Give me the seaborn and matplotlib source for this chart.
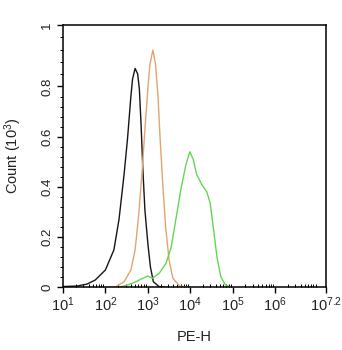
import numpy as np
import pandas as pd
import matplotlib
matplotlib.use("Agg")
import matplotlib.pyplot as plt
import seaborn as sns
from matplotlib.ticker import FixedLocator, FixedFormatter

# ---- data (x in log10 PE-H units, y in Count x10^3) ----
black_logx = [1.00, 1.33, 1.57, 1.76, 2.00, 2.20, 2.32, 2.44, 2.52, 2.60, 2.64, 2.70,
              2.76, 2.80, 2.84, 2.88, 2.93, 3.00, 3.06, 3.13, 3.27, 3.47]
black_count = [0.003, 0.005, 0.013, 0.029, 0.069, 0.149, 0.27, 0.45, 0.59, 0.76, 0.83, 0.872,
               0.85, 0.79, 0.65, 0.48, 0.31, 0.175, 0.082, 0.022, 0.002, 0.0]

orange_logx = [2.00, 2.24, 2.44, 2.60, 2.70, 2.78, 2.86, 2.94, 3.00, 3.05, 3.12,
               3.18, 3.24, 3.29, 3.36, 3.42, 3.50, 3.59, 3.75, 3.98]
orange_count = [0.0, 0.002, 0.022, 0.069, 0.149, 0.28, 0.45, 0.65, 0.79, 0.89, 0.945,
                0.89, 0.76, 0.59, 0.39, 0.24, 0.109, 0.036, 0.005, 0.0]

green_logx = [2.32, 2.52, 2.72, 2.88, 3.00, 3.10, 3.27, 3.43, 3.55, 3.67, 3.79, 3.90, 3.99,
              4.07, 4.15, 4.27, 4.39, 4.47, 4.55, 4.63, 4.72, 4.83, 4.95]
green_count = [0.0, 0.009, 0.022, 0.036, 0.045, 0.036, 0.056, 0.096, 0.16, 0.28, 0.40, 0.49, 0.54,
               0.51, 0.45, 0.41, 0.38, 0.335, 0.23, 0.12, 0.042, 0.009, 0.0]

x_tick_exponents = ["1", "2", "3", "4", "5", "6", "7.2"]
y_tick_labels = ["0", "0.2", "0.4", "0.6", "0.8", "1"]

frames = []
for name, lx, c in [("black", black_logx, black_count),
                    ("orange", orange_logx, orange_count),
                    ("green", green_logx, green_count)]:
    frames.append(pd.DataFrame({"PE-H": np.power(10.0, lx), "Count": c, "sample": name}))
df = pd.concat(frames, ignore_index=True)

sns.set_style("white")
plt.rcParams["font.family"] = ["Liberation Sans", "DejaVu Sans"]
plt.rcParams["mathtext.fontset"] = "custom"
plt.rcParams["mathtext.rm"] = "Liberation Sans"
plt.rcParams["mathtext.it"] = "Liberation Sans:italic"
plt.rcParams["mathtext.bf"] = "Liberation Sans:bold"

fig = plt.figure(figsize=(3.42, 3.5), dpi=100)
ax = fig.add_axes([63 / 342, 1 - 287.3 / 350, (326 - 63) / 342, (287.3 - 25) / 350])

palette = {"black": "#151515", "orange": "#e3a471", "green": "#62d852"}
sns.lineplot(data=df, x="PE-H", y="Count", hue="sample", palette=palette,
             sort=False, estimator=None, linewidth=1.0, legend=False, ax=ax)

ax.set_xscale("log")
xmax = 10 ** 7.2
ax.set_xlim(10, xmax)
ytop = 1.045
ax.set_ylim(0, ytop)

xt = [10.0 ** float(e) for e in x_tick_exponents]
ax.xaxis.set_major_locator(FixedLocator(xt))
ax.xaxis.set_major_formatter(FixedFormatter([r"$\mathregular{10^{%s}}$" % e for e in x_tick_exponents]))
minors = []
for d in range(1, 7):
    for k in range(2, 10):
        v = k * 10.0 ** d
        if v < xmax:
            minors.append(v)
ax.xaxis.set_minor_locator(FixedLocator(minors))

yt = [0, 0.2, 0.4, 0.6, 0.8, ytop]
ax.yaxis.set_major_locator(FixedLocator(yt))
ax.yaxis.set_major_formatter(FixedFormatter(y_tick_labels))
yminor = [0.04 * i for i in range(1, 20) if i % 5 != 0]
yminor += [0.8 + (ytop - 0.8) * i / 5 for i in range(1, 5)]
ax.yaxis.set_minor_locator(FixedLocator(yminor))

ax.tick_params(axis="x", which="major", direction="out", length=4, width=1, labelsize=10.5, pad=2, colors="black")
ax.tick_params(axis="x", which="minor", direction="in", length=2.5, width=0.7, colors="black")
ax.tick_params(axis="y", which="major", direction="out", length=4, width=1, labelsize=9.5, pad=3, colors="black")
ax.tick_params(axis="y", which="minor", direction="out", length=2.5, width=0.7, colors="black")
ax.tick_params(bottom=True, left=True, top=False, right=False, which="both")
for lbl in ax.get_xticklabels():
    lbl.set_color("#222222")
for lbl in ax.get_yticklabels():
    lbl.set_rotation(90)
    lbl.set_va("center")
    lbl.set_color("#222222")

for s in ax.spines.values():
    s.set_visible(True)
    s.set_color("black")
    s.set_linewidth(1.1)

ax.set_xlabel("PE-H", fontsize=10.5, color="#222222")
ax.set_ylabel(r"Count (10$^3$)", fontsize=10.5, color="#222222")
ax.xaxis.set_label_coords(0.5, -0.163)
ax.yaxis.set_label_coords(-0.148, 0.5)

fig.savefig("out.png", dpi=100)
